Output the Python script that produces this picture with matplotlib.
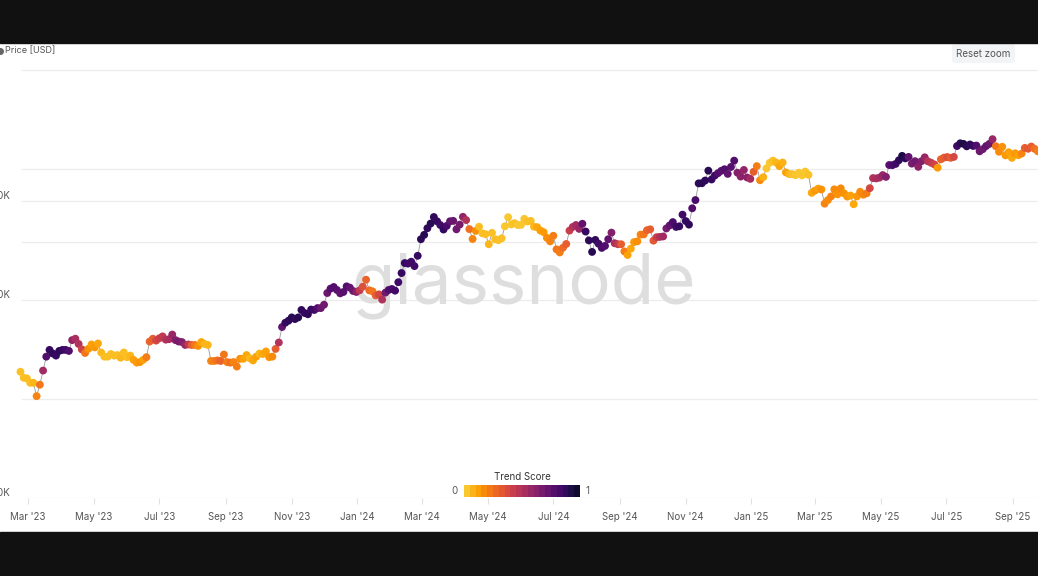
import matplotlib
matplotlib.use('Agg')
import matplotlib.pyplot as plt
import matplotlib.dates as mdates
import matplotlib.transforms as mtransforms
from matplotlib.colors import ListedColormap
from matplotlib.patches import Rectangle, FancyBboxPatch
from matplotlib.ticker import NullLocator
from matplotlib import colormaps
import numpy as np
import pandas as pd

plt.rcParams['font.family'] = ['Inter', 'DejaVu Sans']

# ---------------- data (3-day samples from 2023-02-22), price in K USD -------------
start_date = '2023-02-22'
step = '3D'

price_2023 = [24.2, 23.2, 23.1, 22.4, 22.4, 20.4, 22.1, 24.4, 26.9, 28.2,
              27.5, 27.1, 28.0, 28.2, 28.2, 28.0, 30.2, 30.5, 29.4, 28.3,
              27.6, 28.4, 29.3, 28.7, 29.5, 27.7, 26.9, 26.9, 27.4, 27.1,
              27.2, 26.7, 27.7, 26.8, 27.1, 26.3, 25.8, 25.9, 26.3, 26.8,
              29.9, 30.5, 30.1, 30.6, 31.0, 30.3, 30.4, 31.4, 30.2, 29.9,
              29.8, 29.2, 29.3, 29.2, 29.2, 29.0, 29.8, 29.4, 29.2, 26.1,
              26.1, 26.2, 26.1, 27.3, 25.9, 25.8, 25.9, 25.1, 26.5, 26.5,
              27.2, 26.6, 26.2, 26.9, 27.5, 27.4, 27.9, 26.8, 26.9, 28.4,
              29.7, 33.1, 34.1, 34.6, 35.4, 35.0, 35.4, 37.3, 36.5, 36.2,
              37.4, 37.3, 37.8, 37.8, 38.7, 42.0, 43.3, 43.8, 42.9, 41.9,
              42.3, 44.0, 43.6, 42.6, 42.3]
trend_2023 = [0.02, 0.02, 0.03, 0.03, 0.05, 0.18, 0.22, 0.55, 0.80, 0.88,
              0.90, 0.88, 0.90, 0.88, 0.85, 0.80, 0.60, 0.52, 0.50, 0.40,
              0.22, 0.14, 0.10, 0.12, 0.08, 0.04, 0.03, 0.03, 0.02, 0.03,
              0.03, 0.04, 0.03, 0.03, 0.05, 0.10, 0.12, 0.14, 0.10, 0.20,
              0.28, 0.30, 0.38, 0.42, 0.45, 0.50, 0.52, 0.58, 0.65, 0.68,
              0.65, 0.58, 0.45, 0.30, 0.22, 0.14, 0.08, 0.05, 0.05, 0.18,
              0.20, 0.24, 0.28, 0.22, 0.20, 0.24, 0.18, 0.20, 0.15, 0.10,
              0.08, 0.05, 0.08, 0.10, 0.05, 0.08, 0.10, 0.13, 0.16, 0.30,
              0.50, 0.75, 0.88, 0.90, 0.92, 0.90, 0.92, 0.90, 0.88, 0.90,
              0.88, 0.85, 0.80, 0.72, 0.70, 0.72, 0.78, 0.80, 0.78, 0.75,
              0.78, 0.80, 0.75, 0.72, 0.62]

price_2024 = [42.8, 43.9, 46.1, 42.8, 42.5, 41.3, 41.6, 40.1, 42.1, 42.9,
              43.2, 42.7, 45.3, 48.3, 51.8, 51.6, 52.3, 50.7, 54.5, 61.2,
              63.1, 66.1, 68.3, 71.5, 69.4, 67.6, 65.5, 67.2, 69.4, 69.6,
              65.6, 67.8, 71.6, 70.0, 65.7, 61.3, 64.9, 66.8, 63.8, 63.4,
              59.1, 64.0, 61.2, 60.8, 61.6, 67.0, 71.4, 67.9, 68.5, 67.6,
              67.7, 70.6, 69.3, 69.6, 66.8, 66.6, 65.0, 64.3, 61.8, 60.3,
              62.7, 57.0, 55.8, 57.7, 59.2, 65.0, 66.7, 67.6, 65.8, 68.2,
              64.6, 60.7, 56.0, 60.9, 59.3, 57.6, 58.4, 61.2, 64.1, 59.5,
              59.1, 59.1, 56.2, 54.8, 57.3, 60.0, 60.3, 63.2, 63.3, 65.2,
              65.6, 60.6, 62.1, 62.2, 62.4, 66.0, 67.4, 69.0, 66.7, 67.0,
              72.7, 69.5, 67.8, 76.0, 80.5, 90.5, 90.6, 92.3, 98.9, 93.0,
              95.6, 97.2, 98.8, 99.9, 96.7, 101.5, 106.1, 97.5, 94.9, 99.4,
              94.3, 93.4]
trend_2024 = [0.45, 0.35, 0.28, 0.25, 0.22, 0.30, 0.38, 0.50, 0.70, 0.80,
              0.82, 0.85, 0.85, 0.88, 0.88, 0.85, 0.85, 0.85, 0.88, 0.90,
              0.92, 0.90, 0.92, 0.90, 0.88, 0.85, 0.88, 0.82, 0.75, 0.72,
              0.70, 0.68, 0.60, 0.50, 0.24, 0.18, 0.15, 0.03, 0.02, 0.03,
              0.05, 0.02, 0.03, 0.02, 0.02, 0.01, 0.00, 0.01, 0.02, 0.01,
              0.00, 0.01, 0.02, 0.03, 0.05, 0.08, 0.10, 0.12, 0.15, 0.18,
              0.20, 0.22, 0.20, 0.26, 0.30, 0.42, 0.50, 0.55, 0.58, 0.75,
              0.88, 0.90, 0.92, 0.90, 0.85, 0.82, 0.80, 0.75, 0.65, 0.52,
              0.45, 0.30, 0.20, 0.10, 0.08, 0.12, 0.15, 0.18, 0.22, 0.28,
              0.30, 0.32, 0.42, 0.50, 0.55, 0.68, 0.75, 0.82, 0.85, 0.88,
              0.85, 0.88, 0.90, 0.80, 0.82, 0.90, 0.92, 0.90, 0.92, 0.88,
              0.85, 0.80, 0.78, 0.80, 0.75, 0.78, 0.80, 0.65, 0.62, 0.60,
              0.62, 0.55]

price_2025 = [98.1, 102.1, 92.5, 94.5, 100.5, 104.5, 106.1, 104.7, 102.1, 104.7,
              97.7, 96.6, 96.5, 95.8, 97.5, 95.7, 98.3, 96.1, 84.7, 86.0,
              87.2, 86.7, 78.5, 80.5, 82.6, 86.8, 83.8, 87.4, 84.4, 82.5,
              83.1, 78.2, 82.6, 85.3, 83.6, 84.4, 87.5, 93.9, 93.7, 94.2,
              95.9, 94.7, 102.9, 102.8, 103.7, 106.4, 109.7, 107.8, 108.9, 103.9,
              105.7, 101.6, 105.7, 108.6, 105.6, 104.5, 103.3, 101.0, 107.1, 108.4,
              108.8, 108.2, 108.9, 117.5, 119.8, 119.3, 117.3, 118.8, 117.6, 117.9,
              113.3, 115.0, 117.5, 119.3, 123.3, 117.4, 112.9, 116.9, 110.1, 112.5,
              108.2, 111.7, 110.2, 111.5, 116.0, 115.3, 117.1, 115.3, 113.3]
trend_2025 = [0.30, 0.20, 0.16, 0.06, 0.01, 0.00, 0.02, 0.05, 0.08, 0.06,
              0.10, 0.05, 0.02, 0.01, 0.00, 0.01, 0.00, 0.02, 0.08, 0.12,
              0.10, 0.14, 0.18, 0.16, 0.18, 0.16, 0.14, 0.16, 0.14, 0.12,
              0.10, 0.08, 0.12, 0.16, 0.17, 0.20, 0.38, 0.50, 0.52, 0.55,
              0.58, 0.65, 0.78, 0.82, 0.85, 0.90, 0.95, 0.92, 0.75, 0.68,
              0.70, 0.62, 0.65, 0.58, 0.48, 0.45, 0.40, 0.12, 0.28, 0.30,
              0.35, 0.30, 0.38, 0.85, 0.92, 0.95, 0.92, 0.90, 0.88, 0.80,
              0.72, 0.70, 0.75, 0.72, 0.58, 0.22, 0.16, 0.14, 0.12, 0.10,
              0.08, 0.12, 0.10, 0.18, 0.30, 0.32, 0.30, 0.24, 0.20]

y_grid = [10000, 20000, 40000, 60000, 80000, 100000, 200000]
y_labels = {10000: '10K', 40000: '40K', 80000: '80K'}

# ---------------- figure -------------------------------------------------------------
W, H = 1038, 576
fig = plt.figure(figsize=(W / 100, H / 100), dpi=100)
fig.patch.set_facecolor('white')


def fx(px):
    return px / W


def fy(py):
    return 1 - py / H


price = np.array(price_2023 + price_2024 + price_2025) * 1000.0
trend = np.array(trend_2023 + trend_2024 + trend_2025)
dates = pd.date_range(start_date, periods=len(price), freq=step)

base = colormaps['inferno']
cmap = ListedColormap(base(np.linspace(0.87, 0.08, 256)))

ax = fig.add_axes([fx(22), fy(498), fx(1038) - fx(22), fy(58) - fy(498)])
ax.set_facecolor('white')
ax.set_yscale('log')
px_per_decade = 328.9
ax.set_ylim(10000, 10 ** (4 + 440 / px_per_decade))
x0 = mdates.date2num(pd.Timestamp('2023-03-01'))
px_per_day = 1.0765
ax.set_xlim(x0 + (22 - 28) / px_per_day, x0 + (1038 - 28) / px_per_day)

for v in y_grid:
    ax.axhline(v, color='#ececec', lw=0.9, zorder=0)

ax.plot(dates, price, color='#9a9a9a', lw=0.6, zorder=2)
ax.scatter(dates, price, c=trend, cmap=cmap, vmin=0, vmax=1, s=32,
           edgecolors='none', zorder=3, clip_on=False)

ax.text(fx(524), fy(303), 'glassnode', transform=fig.transFigure, ha='center',
        va='baseline', fontsize=51, color='#dedede', zorder=1)

for s in ax.spines.values():
    s.set_visible(False)
ax.yaxis.set_major_locator(NullLocator())
ax.yaxis.set_minor_locator(NullLocator())
ax.xaxis.set_major_locator(mdates.MonthLocator(bymonth=[1, 3, 5, 7, 9, 11]))
ax.xaxis.set_major_formatter(mdates.DateFormatter("%b '%y"))
ax.xaxis.set_minor_locator(NullLocator())
ax.tick_params(axis='x', length=4, width=0.8, color='#e2e2e2', labelcolor='#555555',
               labelsize=7, pad=6)

tr = mtransforms.blended_transform_factory(fig.transFigure, ax.transData)
for v, lab in y_labels.items():
    ax.text(fx(10), v, lab, transform=tr, ha='right', va='bottom', fontsize=7,
            color='#555555')

# legend label top-left
fig.text(fx(5), fy(50.5), 'Price [USD]', fontsize=6.5, color='#555555', va='center')
fig.add_artist(plt.Line2D([fx(0)], [fy(50.5)], marker='o', markersize=4, color='#666666',
                          transform=fig.transFigure))

# reset zoom button
fig.add_artist(FancyBboxPatch((fx(952), fy(63)), fx(1015) - fx(952), (63 - 44) / H,
                              boxstyle='round,pad=0,rounding_size=0.004',
                              transform=fig.transFigure, fc='#f3f4f6', ec='none'))
fig.text(fx(983.5), fy(54), 'Reset zoom', fontsize=7, color='#555555',
         ha='center', va='center')

# colorbar
cax = fig.add_axes([fx(464), fy(497), fx(580) - fx(464), (497 - 485) / H])
cax.imshow(np.linspace(0, 1, 20)[None, :], aspect='auto', cmap=cmap, vmin=0, vmax=1,
           extent=[0, 1, 0, 1])
cax.axis('off')
fig.text(fx(454), fy(491), '0', fontsize=7, color='#555555', ha='center', va='center')
fig.text(fx(588), fy(491), '1', fontsize=7, color='#555555', ha='center', va='center')
fig.text(fx(522), fy(477), 'Trend Score', fontsize=7, color='#333333', ha='center',
         va='center')

# black letterbox bars
fig.add_artist(Rectangle((0, fy(43)), 1, 43 / H, transform=fig.transFigure,
                         color='#111111', zorder=20))
fig.add_artist(Rectangle((0, 0), 1, 44 / H, transform=fig.transFigure,
                         color='#111111', zorder=20))

fig.savefig('out.png', dpi=100)
